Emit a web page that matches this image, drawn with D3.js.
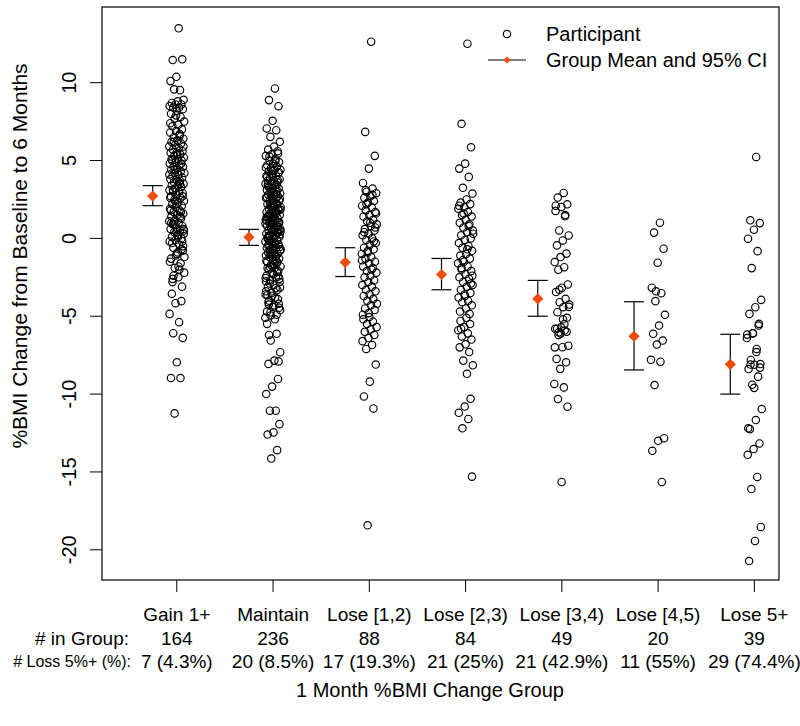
<!DOCTYPE html>
<html><head><meta charset="utf-8">
<script src="https://cdn.jsdelivr.net/npm/d3@7"></script>
<style>
body{margin:0;background:#fff}
text{font-family:Arial,"Liberation Sans",sans-serif;fill:#000}
</style>
</head><body>
<svg id="chart" width="800" height="726"></svg>
<script>
// ---------------- DATA ----------------
const categories = ["Gain 1+","Maintain","Lose [1,2)","Lose [2,3)","Lose [3,4)","Lose [4,5)","Lose 5+"];
const inGroup = ["164","236","88","84","49","20","39"];
const loss5 = ["7 (4.3%)","20 (8.5%)","17 (19.3%)","21 (25%)","21 (42.9%)","11 (55%)","29 (74.4%)"];
const rowLabels = ["# in Group:","# Loss 5%+ (%):"];
const yTicks = [-20,-15,-10,-5,0,5,10];
const groupMean = [2.72, 0.08, -1.54, -2.32, -3.88, -6.29, -8.09];
const ciLow  = [2.10, -0.45, -2.45, -3.30, -5.00, -8.45, -10.00];
const ciHigh = [3.39, 0.58, -0.60, -1.29, -2.70, -4.07, -6.16];

const gain = [13.49,11.45,11.5,10.38,10.1,9.52,9.57,
 8.9,8.8,8.7,8.6,8.6,8.5,8.4,8.4,8.3,8.2,
 8.0,7.8,7.7,7.5,7.3,7.2,7.0,6.9,6.8,6.6,
 6.5,6.4,6.3,6.2,6.1,6.0,5.9,5.8,5.7,5.6,
 5.5,5.5,5.4,5.3,5.2,5.1,5.0,5.0,4.9,4.8,
 4.7,4.6,4.6,4.5,4.4,4.3,4.2,4.2,4.1,4.0,
 3.9,3.8,3.8,3.7,3.6,3.5,3.4,3.4,3.3,3.2,
 3.1,3.0,3.0,2.9,2.8,2.7,2.6,2.5,2.4,2.3,
 2.2,2.1,2.0,1.9,1.8,1.7,1.6,1.5,1.4,1.3,
 1.2,1.1,1.0,0.9,0.8,0.7,0.6,0.5,0.4,0.3,
 0.2,0.1,0.0,-0.1,-0.2,-0.4,-0.6,-0.8,-1.0,-1.3,
 -1.6,-1.9,-2.2,-2.5,-2.8,-3.1,
 7.9,7.4,6.7,6.2,5.9,5.4,5.1,4.8,4.4,4.1,
 3.6,3.1,2.7,2.2,1.8,1.4,0.9,0.5,0.1,-0.3,
 -0.7,-1.1,-1.5,-2.0,-2.4,-0.5,0.2,1.0,1.7,2.4,
 -1.2,-1.8,-2.6,-0.2,0.4,2.6,3.5,1.1,0.6,-0.9,
 -3.56,-4.03,-4.16,-4.85,-5.38,-6.09,-6.39,-7.96,-8.97,-8.97,-11.24];

const maintain = [9.63,8.88,8.49,7.55,7.06,6.95,6.52,6.2,
 5.9,5.7,5.6,5.4,5.3,5.1,5.0,4.9,
 4.8,4.7,4.6,4.5,4.4,4.4,4.3,4.2,
 4.1,4.0,4.0,3.9,3.8,3.7,3.7,3.6,
 3.5,3.5,3.4,3.3,3.2,3.2,3.1,3.0,
 3.0,2.9,2.8,2.8,2.7,2.6,2.6,2.5,
 2.4,2.4,2.3,2.2,2.2,2.1,2.0,2.0,
 1.9,1.8,1.8,1.7,1.6,1.6,1.5,1.4,
 1.4,1.3,1.2,1.2,1.1,1.0,1.0,0.9,
 0.8,0.8,0.7,0.6,0.6,0.5,0.4,0.4,
 0.3,0.2,0.2,0.1,0.0,0.0,-0.1,-0.2,
 -0.2,-0.3,-0.4,-0.4,-0.5,-0.6,-0.6,-0.7,
 -0.8,-0.8,-0.9,-1.0,-1.0,-1.1,-1.2,-1.2,
 -1.3,-1.4,-1.5,-1.6,-1.7,-1.8,-1.9,-2.0,
 -2.1,-2.2,-2.4,-2.5,-2.7,-2.8,-3.0,-3.1,
 -3.3,-3.5,-3.6,-3.8,-4.0,-4.2,-4.4,-4.7,
 -4.9,-4.95,-4.6,-4.3,-4.1,-3.9,-3.7,-3.4,
 -3.2,-2.9,-2.6,-2.3,-1.9,-1.5,-1.1,-0.7,
 -0.3,0.15,0.55,0.95,1.35,1.75,2.15,2.55,
 2.95,3.35,3.75,4.15,4.55,4.95,5.25,-4.45,
 4.35,3.95,3.45,2.75,1.85,0.95,0.15,5.45,
 -1.75,-1.45,-1.15,-0.85,-0.55,-0.25,0.05,0.35,
 0.65,0.95,1.25,1.55,1.85,2.25,2.65,3.15,
 -4.75,-3.15,-1.65,-0.45,0.75,1.95,-2.75,-1.35,
 -0.15,1.05,2.45,-3.65,-2.15,-0.95,0.45,1.65,
 -4.25,-2.45,-0.65,1.15,2.85,-1.85,0.25,3.55,
 3.45,1.05,0.85,-2.55,-0.35,1.45,4.25,2.05,
 -5.49,-6.13,-6.56,-7.31,-7.85,-8.06,-9.03,-9.52,-10.0,-11.07,
 -11.07,-11.93,-12.46,-12.6,-13.6,-14.14,-5.1,-5.2,-6.2,-7.9];

const lose12 = [12.63,6.84,5.3,4.48,3.56,
 3.2,3.0,2.9,2.7,2.6,2.4,2.3,2.1,2.0,1.8,1.7,
 1.5,1.4,1.2,1.1,0.9,0.8,0.6,0.5,0.3,0.2,0.0,
 -0.1,-0.3,-0.4,-0.6,-0.7,-0.9,-1.0,-1.2,-1.3,-1.5,-1.6,
 -1.8,-1.9,-2.1,-2.2,-2.4,-2.5,-2.7,-2.8,-3.0,-3.1,-3.3,
 -3.4,-3.6,-3.7,-3.9,-4.0,-4.2,-4.3,-4.5,-4.6,-4.8,-4.9,
 2.8,2.2,1.6,1.0,0.4,-0.2,-0.8,-1.4,-2.0,3.1,0.7,
 -5.05,-5.2,-5.35,-5.5,-5.7,-5.85,-6.0,-6.2,-6.4,-6.6,-6.85,-7.1,
 -8.1,-9.2,-10.15,-10.92,-18.43];

const lose23 = [12.5,7.36,5.85,4.8,4.48,3.95,3.25,2.88,
 2.5,2.3,2.2,2.0,1.9,1.7,1.5,1.4,1.2,1.0,0.9,
 0.7,0.5,0.4,0.2,0.0,-0.1,-0.3,-0.5,-0.6,-0.8,-1.0,
 -1.1,-1.3,-1.5,-1.6,-1.8,-2.0,-2.1,-2.3,-2.5,-2.6,-2.8,
 -3.0,-3.1,-3.3,-3.5,-3.6,-3.8,-4.0,-4.1,-4.3,-4.5,-4.7,
 -4.85,1.6,0.3,-0.7,-1.9,-2.9,-3.7,2.1,0.8,-1.4,-2.4,
 -5.1,-5.3,-5.5,-5.7,-5.9,-6.1,-6.3,-6.5,-6.8,-7.0,-7.3,-7.85,-8.15,-8.7,-5.8,
 -10.3,-10.8,-11.2,-11.6,-12.2,-15.3];

const lose34 = [2.92,2.62,2.19,2.02,1.76,1.42,0.51,0.19,-0.13,-0.45,
 -0.98,-1.20,-1.52,-1.85,-2.01,-2.96,-3.17,-3.45,-3.88,-4.10,
 -4.25,-4.42,-4.74,-5.10,-5.71,-5.81,-5.92,-6.03,-6.89,-6.99,
 -7.74,-7.96,-8.38,-9.35,-9.57,-10.32,-10.81,-15.64,
 2.1,1.5,-3.3,-4.4,-5.2,-5.8,-6.0,-6.1,-7.0,-5.5,-6.2];

const lose45 = [1.01,0.37,-0.66,-1.56,-3.17,-3.52,-4.03,-4.91,-5.6,-6.13,
 -6.56,-6.82,-7.8,-7.92,-9.42,-12.83,-13.0,-13.64,-15.64,-3.4];

const lose5 = [5.23,1.16,0.98,0.56,-0.02,-0.82,-1.91,-3.95,-4.42,-4.85,
 -5.49,-6.09,-6.18,-7.1,-7.81,-8.07,-8.11,-8.39,-8.88,-9.4,
 -10.96,-11.67,-12.25,-13.17,-13.53,-13.9,-15.32,-16.1,-18.53,-19.43,-20.72,
 -5.6,-6.1,-6.4,-7.3,-8.1,-8.3,-9.6,-12.2];

const groups = [gain, maintain, lose12, lose23, lose34, lose45, lose5];

// ---------------- LAYOUT ----------------
const svg = d3.select("#chart");
const L = 102, R = 779, T = 7, B = 580;
const FS = 19, FS2 = 20;
const orange = "#EE4B0E";

const x = d3.scaleLinear().domain([0.223, 7.256]).range([L, R]);
const y = d3.scaleLinear().domain([-21.94, 14.86]).range([B, T]);

// points (deterministic spread around the group position)
const pts = [];
groups.forEach((vals, gi) => {
  vals.forEach((v, i) => {
    const j = (((i + 1) * 0.61803398875) % 1) - 0.5;
    pts.push({pos: gi + 1 + j * 0.16, v});
  });
});
svg.append("g").selectAll("circle").data(pts).join("circle")
  .attr("cx", d => x(d.pos)).attr("cy", d => y(d.v)).attr("r", 3.7)
  .attr("fill", "none").attr("stroke", "#000").attr("stroke-width", 1.15);

// CI bars
const ci = svg.append("g").attr("stroke", "#000").attr("stroke-width", 1.2);
groupMean.forEach((m, i) => {
  const cx = x(i + 1 - 0.25);
  ci.append("line").attr("x1", cx).attr("x2", cx).attr("y1", y(ciLow[i])).attr("y2", y(ciHigh[i]));
  ci.append("line").attr("x1", cx - 10).attr("x2", cx + 10).attr("y1", y(ciLow[i])).attr("y2", y(ciLow[i]));
  ci.append("line").attr("x1", cx - 10).attr("x2", cx + 10).attr("y1", y(ciHigh[i])).attr("y2", y(ciHigh[i]));
});
const diamond = s => `M0,${-s}L${s},0L0,${s}L${-s},0Z`;
svg.append("g").selectAll("path").data(groupMean).join("path")
  .attr("d", diamond(5.6))
  .attr("transform", (m, i) => `translate(${x(i + 1 - 0.25)},${y(m)})`)
  .attr("fill", orange);

// frame
svg.append("rect").attr("x", L).attr("y", T).attr("width", R - L).attr("height", B - T)
  .attr("fill", "none").attr("stroke", "#000").attr("stroke-width", 1.2);

// y axis
const ya = svg.append("g");
yTicks.forEach(t => {
  ya.append("line").attr("x1", L - 12).attr("x2", L).attr("y1", y(t)).attr("y2", y(t)).attr("stroke", "#000");
  ya.append("text").attr("transform", `translate(69,${y(t)}) rotate(-90)`)
    .attr("text-anchor", "middle").attr("dominant-baseline", "central")
    .attr("font-size", FS2).text(t);
});
svg.append("text").attr("transform", `translate(19,256) rotate(-90)`)
  .attr("text-anchor", "middle").attr("dominant-baseline", "central")
  .attr("font-size", 21).text("%BMI Change from Baseline to 6 Months");

// x axis
const xa = svg.append("g");
categories.forEach((c, i) => {
  const px = x(i + 1);
  xa.append("line").attr("x1", px).attr("x2", px).attr("y1", B).attr("y2", B + 12).attr("stroke", "#000");
  xa.append("text").attr("x", px).attr("y", 614).attr("text-anchor", "middle")
    .attr("dominant-baseline", "central").attr("font-size", FS).text(c);
  xa.append("text").attr("x", px).attr("y", 638).attr("text-anchor", "middle")
    .attr("dominant-baseline", "central").attr("font-size", FS).text(inGroup[i]);
  xa.append("text").attr("x", px).attr("y", 661).attr("text-anchor", "middle")
    .attr("dominant-baseline", "central").attr("font-size", FS).text(loss5[i]);
});
xa.append("text").attr("x", 129).attr("y", 638).attr("text-anchor", "end")
  .attr("dominant-baseline", "central").attr("font-size", FS).text(rowLabels[0]);
xa.append("text").attr("x", 131).attr("y", 661).attr("text-anchor", "end")
  .attr("dominant-baseline", "central").attr("font-size", 16).text(rowLabels[1]);
svg.append("text").attr("x", 430).attr("y", 690).attr("text-anchor", "middle")
  .attr("dominant-baseline", "central").attr("font-size", FS2).text("1 Month %BMI Change Group");

// legend
const lg = svg.append("g");
lg.append("circle").attr("cx", 507).attr("cy", 34).attr("r", 3.7).attr("fill", "none").attr("stroke", "#000").attr("stroke-width", 1.15);
lg.append("text").attr("x", 546).attr("y", 34).attr("dominant-baseline", "central").attr("font-size", FS2).text("Participant");
lg.append("line").attr("x1", 488).attr("x2", 526).attr("y1", 60).attr("y2", 60).attr("stroke", "#000").attr("stroke-width", 1.2);
lg.append("path").attr("d", diamond(3.6)).attr("transform", "translate(507,60)").attr("fill", orange);
lg.append("text").attr("x", 546).attr("y", 60).attr("dominant-baseline", "central").attr("font-size", FS2).text("Group Mean and 95% CI");
</script>
</body></html>
